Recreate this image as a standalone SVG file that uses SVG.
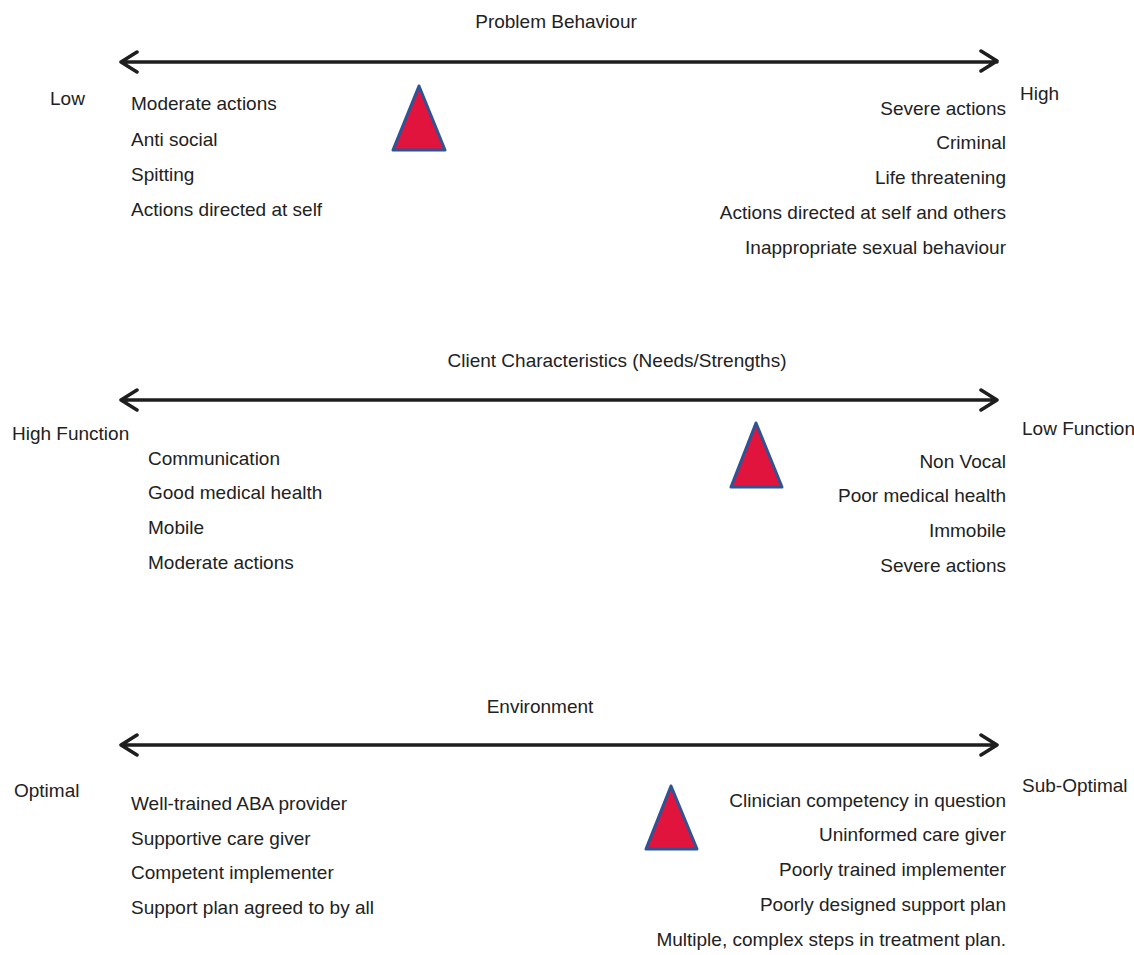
<svg xmlns="http://www.w3.org/2000/svg" width="1134" height="955" viewBox="0 0 1134 955">
<style>
text{font-family:"Liberation Sans",Arial,sans-serif;font-size:19px;fill:#222}
.r{text-anchor:end}
.c{text-anchor:middle}
.ax{stroke:#1e1e1e;stroke-width:3.5;fill:none;stroke-linecap:round;stroke-linejoin:round}
.tri{fill:#e0143c;stroke:#2f5496;stroke-width:3;stroke-linejoin:round}
</style>
<rect width="1134" height="955" fill="#fff"/>
<g id="connectors">
<path class="ax" d="M121 62H997M137 52L121 62L137 72M981 51L997 61L981 71"/>
<path class="ax" d="M121 400H997M137 390L121 400L137 410M981 390L997 400L981 410"/>
<path class="ax" d="M121 745H997M137 735L121 745L137 755M981 735L997 745L981 755"/>
</g>
<g id="problem-behaviour">
<text class="c" x="556" y="28">Problem Behaviour</text>
<text x="50" y="105">Low</text>
<text x="1020" y="100">High</text>
<text x="131" y="110">Moderate actions</text>
<text x="131" y="146">Anti social</text>
<text x="131" y="181">Spitting</text>
<text x="131" y="216">Actions directed at self</text>
<text class="r" x="1006" y="115">Severe actions</text>
<text class="r" x="1006" y="149">Criminal</text>
<text class="r" x="1006" y="184">Life threatening</text>
<text class="r" x="1006" y="219">Actions directed at self and others</text>
<text class="r" x="1006" y="254">Inappropriate sexual behaviour</text>
<polygon id="marker1" class="tri" points="419,86 393,150 445,150"/>
</g>
<g id="client-characteristics">
<text class="c" x="617" y="367">Client Characteristics (Needs/Strengths)</text>
<text x="12" y="440">High Function</text>
<text x="1022" y="435">Low Function</text>
<text x="148" y="465">Communication</text>
<text x="148" y="499">Good medical health</text>
<text x="148" y="534">Mobile</text>
<text x="148" y="569">Moderate actions</text>
<text class="r" x="1006" y="468">Non Vocal</text>
<text class="r" x="1006" y="502">Poor medical health</text>
<text class="r" x="1006" y="537">Immobile</text>
<text class="r" x="1006" y="572">Severe actions</text>
<polygon id="marker2" class="tri" points="756,423 731,487 782,487"/>
</g>
<g id="environment">
<text class="c" x="540" y="713">Environment</text>
<text x="14" y="797">Optimal</text>
<text x="1022" y="792">Sub-Optimal</text>
<text x="131" y="810">Well-trained ABA provider</text>
<text x="131" y="845">Supportive care giver</text>
<text x="131" y="879">Competent implementer</text>
<text x="131" y="914">Support plan agreed to by all</text>
<text class="r" x="1006" y="807">Clinician competency in question</text>
<text class="r" x="1006" y="841">Uninformed care giver</text>
<text class="r" x="1006" y="876">Poorly trained implementer</text>
<text class="r" x="1006" y="911">Poorly designed support plan</text>
<text class="r" x="1006" y="946">Multiple, complex steps in treatment plan.</text>
<polygon id="marker3" class="tri" points="671,786 646,849 697,849"/>
</g>
</svg>
